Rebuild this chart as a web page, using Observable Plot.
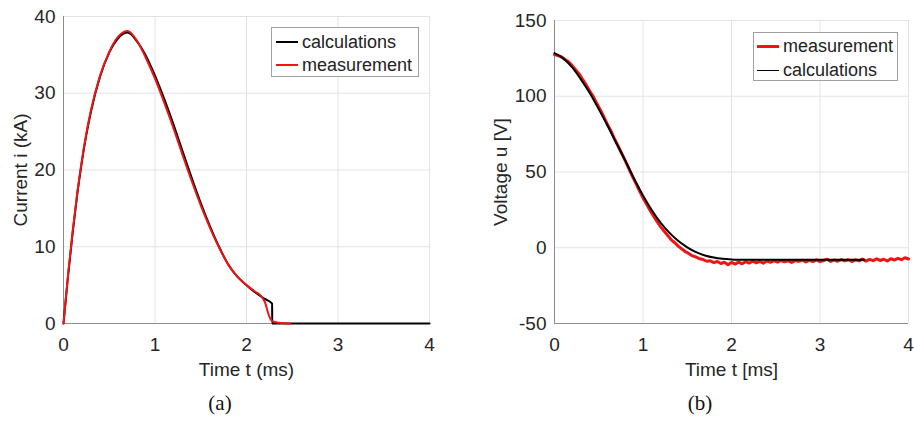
<!DOCTYPE html>
<html>
<head>
<meta charset="utf-8">
<script src="https://cdn.jsdelivr.net/npm/d3@7"></script>
<script src="https://cdn.jsdelivr.net/npm/@observablehq/plot@0.6"></script>
<style>
  html, body { margin: 0; padding: 0; background: #fff; }
  #root { position: relative; width: 914px; height: 422px; font-family: "Liberation Sans", Arial, sans-serif; }
  .panel { position: absolute; top: 0; }
  .legend { position: absolute; background: #fff; border: 1px solid #a0a0a0; box-sizing: border-box; font-size: 18px; color: #222; }
  .legend .row { position: absolute; left: 0; height: 22px; display: flex; align-items: center; white-space: nowrap; }
  .legend .sw { display: inline-block; height: 0; margin-right: 4px; }
  .caption { position: absolute; font-family: "Liberation Serif", "Times New Roman", serif; font-size: 21px; color: #111; transform: translateX(-50%); }
</style>
</head>
<body>
<div id="root"></div>
<script>
// ---------- Panel (a): current ----------
const aLabels = { x: "Time t (ms)", y: "Current i (kA)" };
const aTicksX = [0, 1, 2, 3, 4];
const aTicksY = [0, 10, 20, 30, 40];
const aCalcT = [0, 0.02, 0.05, 0.1, 0.15, 0.2, 0.25, 0.3, 0.4, 0.5, 0.6, 0.7, 0.8, 0.9, 1.0, 1.1, 1.2, 1.3, 1.4, 1.5, 1.6, 1.7, 1.8, 1.9, 2.0, 2.1, 2.2, 2.28, 2.281, 4.0];
const aCalcI = [0, 2.5, 6.2, 11.8, 16.8, 21, 24.6, 27.6, 32.2, 35.3, 37.2, 37.9, 36.8, 34.9, 32.3, 29.3, 26.0, 22.5, 19.0, 15.7, 12.7, 10.0, 7.7, 6.1, 5.0, 4.0, 3.2, 2.6, 0, 0];
const aMeasT = [0, 0.02, 0.05, 0.1, 0.15, 0.2, 0.25, 0.3, 0.4, 0.5, 0.6, 0.7, 0.8, 0.9, 1.0, 1.1, 1.2, 1.3, 1.4, 1.5, 1.6, 1.7, 1.8, 1.9, 2.0, 2.1, 2.15, 2.2, 2.25, 2.28, 2.35, 2.48];
const aMeasI = [0, 2.6, 6.4, 12, 17, 21.2, 24.8, 27.8, 32.3, 35.4, 37.4, 38.1, 36.9, 34.6, 31.9, 28.8, 25.5, 22.0, 18.6, 15.4, 12.5, 9.9, 7.7, 6.1, 5.0, 4.1, 3.7, 2.8, 0.9, 0.3, 0.1, 0];

// ---------- Panel (b): voltage ----------
const bLabels = { x: "Time t [ms]", y: "Voltage u [V]" };
const bTicksX = [0, 1, 2, 3, 4];
const bTicksY = [-50, 0, 50, 100, 150];
const bCalcT = [0, 0.1, 0.2, 0.3, 0.4, 0.5, 0.6, 0.7, 0.8, 0.9, 1.0, 1.1, 1.2, 1.3, 1.4, 1.5, 1.6, 1.7, 1.8, 1.9, 2.0, 2.1, 2.2, 2.5, 3.0, 3.5];
const bCalcU = [128.5, 125, 119, 111, 102, 91.5, 80.5, 69, 57.5, 45.5, 34.5, 24.8, 16.5, 9.8, 4.4, 0.3, -2.9, -5.1, -6.5, -7.3, -7.7, -7.9, -8, -8, -8, -8];
const bMeasT = [0, 0.04, 0.08, 0.12, 0.16, 0.2, 0.24, 0.28, 0.32, 0.36, 0.4, 0.44, 0.48, 0.52, 0.56, 0.6, 0.64, 0.68, 0.72, 0.76, 0.8, 0.84, 0.88, 0.92, 0.96, 1.0, 1.04, 1.08, 1.12, 1.16, 1.2, 1.24, 1.28, 1.32, 1.36, 1.4, 1.44, 1.48, 1.52, 1.56, 1.6, 1.64, 1.68, 1.72, 1.76, 1.8, 1.84, 1.88, 1.92, 1.96, 2.0, 2.04, 2.08, 2.12, 2.16, 2.2, 2.24, 2.28, 2.32, 2.36, 2.4, 2.44, 2.48, 2.52, 2.56, 2.6, 2.64, 2.68, 2.72, 2.76, 2.8, 2.84, 2.88, 2.92, 2.96, 3.0, 3.04, 3.08, 3.12, 3.16, 3.2, 3.24, 3.28, 3.32, 3.36, 3.4, 3.44, 3.48, 3.52, 3.56, 3.6, 3.64, 3.68, 3.72, 3.76, 3.8, 3.84, 3.88, 3.92, 3.96, 4.0];
const bMeasU = [127.5, 126.8, 125.9, 124.2, 122.8, 120.1, 117.4, 114.6, 110.9, 107.3, 103.2, 99.6, 95.0, 90.8, 86.1, 81.3, 76.8, 71.6, 67.0, 62.1, 57.3, 52.2, 47.1, 42.5, 37.6, 32.9, 28.8, 24.6, 20.9, 17.2, 13.8, 10.9, 8.1, 5.2, 3.3, 0.9, -0.8, -2.6, -3.9, -5.4, -6.1, -7.3, -7.8, -8.9, -8.6, -9.8, -9.1, -10.4, -9.6, -11.2, -9.7, -10.8, -9.5, -10.6, -9.2, -10.1, -8.9, -9.9, -9.0, -10.2, -8.8, -9.6, -8.7, -9.5, -8.4, -9.3, -8.6, -9.7, -8.5, -9.0, -8.2, -9.4, -8.3, -9.1, -8.0, -9.2, -8.4, -7.6, -9.0, -8.1, -8.9, -7.8, -8.7, -7.9, -9.1, -8.0, -8.6, -7.5, -8.8, -7.7, -8.5, -7.3, -8.4, -7.6, -8.7, -7.2, -8.1, -7.0, -7.9, -6.6, -7.4];

const zip = (xs, ys) => xs.map((x, i) => ({ x, y: ys[i] }));
const AXIS = "#8c8c8c", GRID = "#e3e3e3", TXT = "#262626", RED = "#f01414";
const fmt = d => (d < 0 ? "-" + Math.abs(d) : String(d));

function panel({ ticksX, ticksY, labels, domY, mL, mR, mT, yLabelDx, series }) {
  const marks = [
    Plot.gridX(ticksX, { stroke: GRID, strokeOpacity: 1 }),
    Plot.gridY(ticksY, { stroke: GRID, strokeOpacity: 1 }),
    Plot.ruleX([0], { stroke: AXIS, strokeWidth: 1 }),
    Plot.ruleY([domY[0]], { stroke: AXIS, strokeWidth: 1 }),
    Plot.axisX(ticksX, { tickSize: 0, tickPadding: 14, fill: TXT, fontSize: 19, tickFormat: fmt, label: null }),
    Plot.axisY(ticksY, { tickSize: 0, tickPadding: 8, fill: TXT, fontSize: 19, tickFormat: fmt, label: null }),
    Plot.text([labels.x], { frameAnchor: "bottom", lineAnchor: "middle", textAnchor: "middle", dy: 46, fontSize: 19, fill: TXT }),
    Plot.text([labels.y], { frameAnchor: "left", lineAnchor: "middle", textAnchor: "middle", dx: yLabelDx, rotate: -90, fontSize: 19, fill: TXT }),
    ...series.map(s => Plot.line(s.data, { x: "x", y: "y", stroke: s.color, strokeWidth: s.width, curve: s.curve || "linear" }))
  ];
  return Plot.plot({
    width: 457, height: 385,
    marginLeft: mL, marginRight: mR, marginTop: mT, marginBottom: 62,
    x: { domain: [0, 4] },
    y: { domain: domY },
    style: { fontFamily: "'Liberation Sans', Arial, sans-serif", fontSize: "19px", background: "transparent", overflow: "visible" },
    marks
  });
}

const root = document.getElementById("root");

const pa = panel({
  ticksX: aTicksX, ticksY: aTicksY, labels: aLabels, domY: [0, 40],
  mL: 63, mR: 28, mT: 16, yLabelDx: -43,
  series: [
    { data: zip(aCalcT, aCalcI), color: "#000", width: 2, curve: "monotone-x" },
    { data: zip(aMeasT, aMeasI), color: RED, width: 2, curve: "monotone-x" }
  ]
});
pa.classList.add("panel"); pa.style.left = "0px";
root.appendChild(pa);

const pb = panel({
  ticksX: bTicksX, ticksY: bTicksY, labels: bLabels, domY: [-50, 150],
  mL: 97, mR: 6, mT: 20, yLabelDx: -54,
  series: [
    { data: zip(bMeasT, bMeasU), color: RED, width: 3, curve: "linear" },
    { data: zip(bCalcT, bCalcU), color: "#000", width: 2, curve: "monotone-x" }
  ]
});
pb.classList.add("panel"); pb.style.left = "457px";
root.appendChild(pb);

// legends
function legend(left, top, w, h, entries, swLeft, txtLeft, rowTops) {
  const d = document.createElement("div");
  d.className = "legend";
  Object.assign(d.style, { left: left + "px", top: top + "px", width: w + "px", height: h + "px" });
  entries.forEach((e, i) => {
    const r = document.createElement("div");
    r.className = "row";
    r.style.top = rowTops[i] + "px";
    r.style.left = swLeft + "px";
    const sw = document.createElement("span");
    sw.className = "sw";
    Object.assign(sw.style, { width: (txtLeft - swLeft - 4) + "px", borderTop: e.width + "px solid " + e.color });
    const t = document.createElement("span");
    t.textContent = e.name;
    r.appendChild(sw); r.appendChild(t);
    d.appendChild(r);
  });
  root.appendChild(d);
}
legend(271, 27, 148, 50, [
  { name: "calculations", color: "#000", width: 2 },
  { name: "measurement", color: RED, width: 2 }
], 4, 30, [3, 26]);
legend(753, 32, 145, 49, [
  { name: "measurement", color: RED, width: 3 },
  { name: "calculations", color: "#000", width: 1.5 }
], 3, 29, [2, 26]);

// captions
[["(a)", 220], ["(b)", 700]].forEach(([txt, x]) => {
  const c = document.createElement("div");
  c.className = "caption";
  c.textContent = txt;
  Object.assign(c.style, { left: x + "px", top: "391px" });
  root.appendChild(c);
});
</script>
</body>
</html>
